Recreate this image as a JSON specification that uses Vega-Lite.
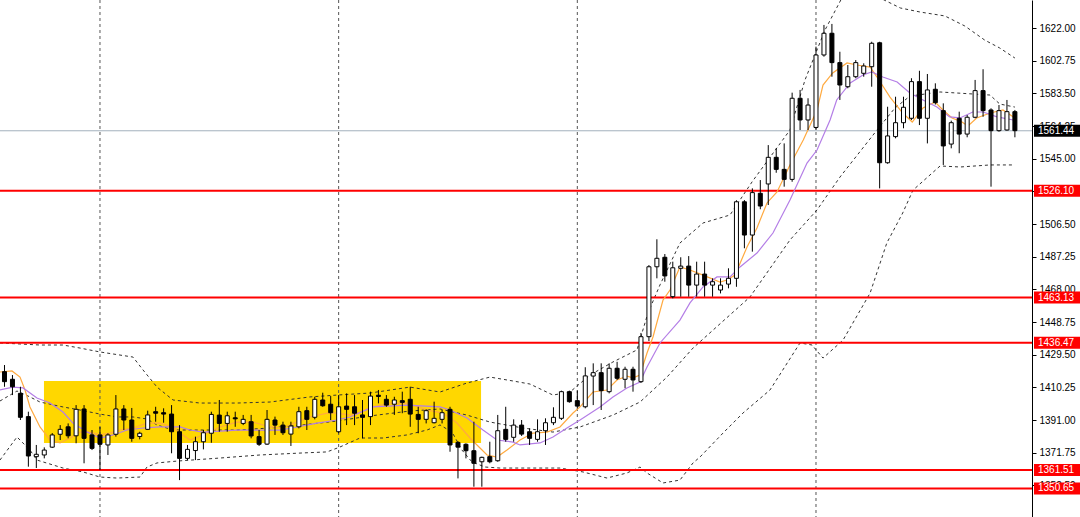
{
"$schema":"https://vega.github.io/schema/vega-lite/v6.json",
"width":1032,"height":517,
"autosize":{"type":"none"},
"padding":{"left":0,"top":0,"right":48,"bottom":0},
"background":"white",
"config":{"view":{"stroke":null},"font":"Liberation Sans"},
"datasets":{
"candles":[
{"i":0,"o":1419.5,"h":1423.4,"l":1410.6,"c":1413.6},
{"i":1,"o":1415.0,"h":1417.5,"l":1405.7,"c":1410.6},
{"i":2,"o":1406.7,"h":1410.6,"l":1391.0,"c":1392.6},
{"i":3,"o":1393.0,"h":1395.9,"l":1363.5,"c":1369.8},
{"i":4,"o":1369.4,"h":1376.3,"l":1362.7,"c":1370.8},
{"i":5,"o":1370.4,"h":1374.9,"l":1368.4,"c":1373.3},
{"i":6,"o":1375.0,"h":1383.3,"l":1374.5,"c":1382.2},
{"i":7,"o":1382.6,"h":1388.0,"l":1379.2,"c":1385.5},
{"i":8,"o":1387.0,"h":1389.0,"l":1380.2,"c":1381.7},
{"i":9,"o":1381.7,"h":1399.8,"l":1377.3,"c":1397.3},
{"i":10,"o":1397.5,"h":1399.8,"l":1365.5,"c":1380.2},
{"i":11,"o":1382.2,"h":1385.1,"l":1373.3,"c":1374.3},
{"i":12,"o":1382.2,"h":1386.9,"l":1361.5,"c":1376.7},
{"i":13,"o":1376.3,"h":1383.2,"l":1370.4,"c":1382.2},
{"i":14,"o":1382.6,"h":1405.7,"l":1381.2,"c":1397.5},
{"i":15,"o":1397.5,"h":1399.8,"l":1385.1,"c":1391.0},
{"i":16,"o":1391.0,"h":1398.1,"l":1378.2,"c":1380.2},
{"i":17,"o":1381.3,"h":1384.1,"l":1379.6,"c":1383.2},
{"i":18,"o":1385.5,"h":1396.5,"l":1385.1,"c":1394.0},
{"i":19,"o":1395.9,"h":1398.8,"l":1390.0,"c":1395.0},
{"i":20,"o":1395.3,"h":1397.9,"l":1389.4,"c":1394.5},
{"i":21,"o":1394.5,"h":1399.8,"l":1371.4,"c":1384.1},
{"i":22,"o":1384.1,"h":1388.0,"l":1355.6,"c":1368.4},
{"i":23,"o":1368.4,"h":1376.3,"l":1367.4,"c":1373.7},
{"i":24,"o":1373.0,"h":1381.2,"l":1367.4,"c":1378.2},
{"i":25,"o":1378.2,"h":1385.1,"l":1373.7,"c":1383.5},
{"i":26,"o":1383.2,"h":1395.9,"l":1377.6,"c":1394.3},
{"i":27,"o":1393.9,"h":1402.8,"l":1384.1,"c":1389.0},
{"i":28,"o":1389.0,"h":1395.9,"l":1384.1,"c":1393.5},
{"i":29,"o":1392.3,"h":1395.9,"l":1387.0,"c":1391.7},
{"i":30,"o":1389.0,"h":1394.0,"l":1388.0,"c":1391.4},
{"i":31,"o":1390.0,"h":1394.0,"l":1380.2,"c":1381.6},
{"i":32,"o":1381.2,"h":1385.1,"l":1375.7,"c":1376.7},
{"i":33,"o":1376.8,"h":1396.9,"l":1376.3,"c":1391.4},
{"i":34,"o":1391.0,"h":1393.0,"l":1382.2,"c":1388.0},
{"i":35,"o":1388.0,"h":1390.0,"l":1382.2,"c":1383.5},
{"i":36,"o":1382.7,"h":1390.0,"l":1375.7,"c":1387.5},
{"i":37,"o":1387.0,"h":1398.8,"l":1386.1,"c":1395.9},
{"i":38,"o":1396.5,"h":1398.8,"l":1385.1,"c":1391.4},
{"i":39,"o":1392.6,"h":1404.7,"l":1391.4,"c":1403.2},
{"i":40,"o":1402.8,"h":1407.1,"l":1398.8,"c":1399.4},
{"i":41,"o":1400.3,"h":1405.1,"l":1391.0,"c":1395.3},
{"i":42,"o":1384.1,"h":1405.7,"l":1383.2,"c":1398.8},
{"i":43,"o":1399.2,"h":1406.7,"l":1388.0,"c":1397.3},
{"i":44,"o":1398.8,"h":1405.7,"l":1388.0,"c":1395.0},
{"i":45,"o":1394.0,"h":1402.8,"l":1380.2,"c":1392.6},
{"i":46,"o":1393.0,"h":1407.7,"l":1388.0,"c":1405.1},
{"i":47,"o":1405.6,"h":1408.7,"l":1400.8,"c":1404.9},
{"i":48,"o":1403.2,"h":1405.7,"l":1398.8,"c":1399.8},
{"i":49,"o":1400.3,"h":1404.7,"l":1394.0,"c":1402.8},
{"i":50,"o":1402.4,"h":1407.7,"l":1395.0,"c":1401.4},
{"i":51,"o":1403.2,"h":1410.6,"l":1387.0,"c":1394.5},
{"i":52,"o":1394.3,"h":1398.8,"l":1383.2,"c":1391.4},
{"i":53,"o":1391.4,"h":1397.3,"l":1389.0,"c":1396.5},
{"i":54,"o":1389.4,"h":1401.8,"l":1389.0,"c":1392.0},
{"i":55,"o":1391.4,"h":1396.9,"l":1389.0,"c":1395.3},
{"i":56,"o":1397.3,"h":1398.8,"l":1372.3,"c":1376.3},
{"i":57,"o":1377.8,"h":1378.5,"l":1356.6,"c":1375.0},
{"i":58,"o":1376.7,"h":1377.3,"l":1368.4,"c":1372.9},
{"i":59,"o":1372.9,"h":1390.0,"l":1351.7,"c":1365.5},
{"i":60,"o":1366.4,"h":1369.4,"l":1351.7,"c":1369.0},
{"i":61,"o":1369.4,"h":1378.2,"l":1365.5,"c":1366.4},
{"i":62,"o":1367.0,"h":1394.0,"l":1366.4,"c":1384.7},
{"i":63,"o":1385.5,"h":1398.8,"l":1378.2,"c":1379.6},
{"i":64,"o":1380.8,"h":1391.4,"l":1378.2,"c":1388.0},
{"i":65,"o":1388.0,"h":1391.0,"l":1381.6,"c":1382.7},
{"i":66,"o":1384.1,"h":1386.1,"l":1376.3,"c":1380.2},
{"i":67,"o":1379.6,"h":1391.4,"l":1378.2,"c":1384.1},
{"i":68,"o":1384.7,"h":1392.0,"l":1376.3,"c":1389.4},
{"i":69,"o":1389.4,"h":1398.5,"l":1388.0,"c":1392.6},
{"i":70,"o":1392.0,"h":1408.3,"l":1391.0,"c":1407.7},
{"i":71,"o":1407.7,"h":1408.3,"l":1401.2,"c":1401.8},
{"i":72,"o":1402.4,"h":1408.3,"l":1397.9,"c":1399.2},
{"i":73,"o":1398.8,"h":1422.1,"l":1397.9,"c":1417.0},
{"i":74,"o":1416.9,"h":1424.4,"l":1399.8,"c":1418.9},
{"i":75,"o":1418.9,"h":1424.4,"l":1396.9,"c":1408.3},
{"i":76,"o":1407.7,"h":1424.4,"l":1406.7,"c":1421.5},
{"i":77,"o":1421.5,"h":1425.3,"l":1414.6,"c":1415.6},
{"i":78,"o":1415.0,"h":1422.4,"l":1409.7,"c":1420.9},
{"i":79,"o":1420.9,"h":1422.4,"l":1407.7,"c":1414.6},
{"i":80,"o":1413.6,"h":1442.3,"l":1412.8,"c":1440.1},
{"i":81,"o":1440.1,"h":1482.3,"l":1437.5,"c":1481.3},
{"i":82,"o":1481.3,"h":1497.5,"l":1474.5,"c":1486.3},
{"i":83,"o":1486.9,"h":1488.8,"l":1472.5,"c":1475.9},
{"i":84,"o":1463.7,"h":1484.3,"l":1462.7,"c":1480.7},
{"i":85,"o":1480.4,"h":1486.9,"l":1463.7,"c":1481.7},
{"i":86,"o":1481.7,"h":1487.6,"l":1463.7,"c":1470.5},
{"i":87,"o":1470.5,"h":1484.3,"l":1463.7,"c":1477.0},
{"i":88,"o":1477.0,"h":1484.3,"l":1463.7,"c":1470.5},
{"i":89,"o":1470.5,"h":1474.5,"l":1463.7,"c":1472.5},
{"i":90,"o":1467.6,"h":1474.5,"l":1465.6,"c":1470.5},
{"i":91,"o":1471.1,"h":1480.4,"l":1468.6,"c":1474.5},
{"i":92,"o":1474.5,"h":1520.5,"l":1469.5,"c":1519.6},
{"i":93,"o":1519.6,"h":1520.6,"l":1492.2,"c":1500.0},
{"i":94,"o":1500.0,"h":1527.5,"l":1490.2,"c":1525.0},
{"i":95,"o":1524.6,"h":1532.4,"l":1515.2,"c":1517.1},
{"i":96,"o":1530.1,"h":1553.0,"l":1517.7,"c":1545.8},
{"i":97,"o":1545.8,"h":1551.1,"l":1536.7,"c":1538.7},
{"i":98,"o":1538.7,"h":1554.0,"l":1528.5,"c":1532.8},
{"i":99,"o":1532.8,"h":1583.9,"l":1531.4,"c":1580.6},
{"i":100,"o":1580.6,"h":1585.5,"l":1561.9,"c":1567.8},
{"i":101,"o":1567.8,"h":1580.6,"l":1561.9,"c":1576.6},
{"i":102,"o":1563.4,"h":1611.0,"l":1561.9,"c":1606.1},
{"i":103,"o":1606.1,"h":1623.8,"l":1605.1,"c":1618.9},
{"i":104,"o":1618.9,"h":1624.4,"l":1593.3,"c":1601.6},
{"i":105,"o":1601.6,"h":1608.0,"l":1579.6,"c":1588.4},
{"i":106,"o":1587.4,"h":1600.2,"l":1586.5,"c":1593.3},
{"i":107,"o":1593.3,"h":1603.1,"l":1592.4,"c":1601.6},
{"i":108,"o":1595.3,"h":1601.2,"l":1593.3,"c":1599.6},
{"i":109,"o":1599.2,"h":1613.9,"l":1587.4,"c":1613.0},
{"i":110,"o":1613.3,"h":1613.9,"l":1527.5,"c":1542.6},
{"i":111,"o":1542.6,"h":1575.6,"l":1542.0,"c":1558.4},
{"i":112,"o":1558.0,"h":1581.5,"l":1557.0,"c":1566.2},
{"i":113,"o":1566.2,"h":1581.5,"l":1562.9,"c":1575.3},
{"i":114,"o":1568.8,"h":1592.4,"l":1567.8,"c":1590.4},
{"i":115,"o":1590.4,"h":1596.8,"l":1564.8,"c":1568.8},
{"i":116,"o":1568.8,"h":1594.9,"l":1554.0,"c":1585.5},
{"i":117,"o":1585.9,"h":1589.4,"l":1576.9,"c":1578.0},
{"i":118,"o":1573.3,"h":1577.6,"l":1541.3,"c":1552.5},
{"i":119,"o":1553.6,"h":1567.4,"l":1551.1,"c":1566.2},
{"i":120,"o":1568.8,"h":1572.7,"l":1548.2,"c":1559.5},
{"i":121,"o":1559.5,"h":1570.7,"l":1557.6,"c":1569.4},
{"i":122,"o":1569.4,"h":1591.4,"l":1568.8,"c":1585.1},
{"i":123,"o":1585.1,"h":1597.7,"l":1569.7,"c":1573.3},
{"i":124,"o":1573.7,"h":1574.7,"l":1528.5,"c":1561.5},
{"i":125,"o":1561.5,"h":1576.6,"l":1560.9,"c":1573.3},
{"i":126,"o":1561.9,"h":1579.6,"l":1561.5,"c":1572.7},
{"i":127,"o":1572.7,"h":1573.7,"l":1557.6,"c":1561.5}
],
"bands":[
{"b":"up","i":-0.57,"v":1436.4},{"b":"up","i":4.46,"v":1435.2},{"b":"up","i":7.35,"v":1435.2},{"b":"up","i":9.49,"v":1433.4},{"b":"up","i":12.0,"v":1431.1},{"b":"up","i":16.15,"v":1428.1},{"b":"up","i":17.41,"v":1420.5},{"b":"up","i":19.17,"v":1410.4},{"b":"up","i":21.18,"v":1402.8},{"b":"up","i":24.57,"v":1401.0},{"b":"up","i":29.22,"v":1401.0},{"b":"up","i":33.37,"v":1401.6},{"b":"up","i":38.4,"v":1404.6},{"b":"up","i":41.79,"v":1405.7},{"b":"up","i":45.94,"v":1406.9},{"b":"up","i":50.97,"v":1410.4},{"b":"up","i":54.74,"v":1407.5},{"b":"up","i":58.13,"v":1412.8},{"b":"up","i":61.02,"v":1416.3},{"b":"up","i":63.91,"v":1414.0},{"b":"up","i":66.05,"v":1412.2},{"b":"up","i":68.94,"v":1405.7},{"b":"up","i":71.08,"v":1407.5},{"b":"up","i":73.59,"v":1417.5},{"b":"up","i":76.48,"v":1425.2},{"b":"up","i":79.5,"v":1432.3},{"b":"up","i":80.88,"v":1454.1},{"b":"up","i":82.39,"v":1470.6},{"b":"up","i":84.9,"v":1495.3},{"b":"up","i":87.8,"v":1507.1},{"b":"up","i":91.19,"v":1511.8},{"b":"up","i":93.96,"v":1531.3},{"b":"up","i":98.73,"v":1561.9},{"b":"up","i":100.62,"v":1591.4},{"b":"up","i":103.13,"v":1620.8},{"b":"up","i":105.65,"v":1643.2},{"b":"up","i":108.2,"v":1645.6},{"b":"up","i":110.05,"v":1639.7},{"b":"up","i":112.6,"v":1633.8},{"b":"up","i":115.1,"v":1631.4},{"b":"up","i":118.2,"v":1629.1},{"b":"up","i":120.7,"v":1623.2},{"b":"up","i":123.2,"v":1614.9},{"b":"up","i":125.1,"v":1610.2},{"b":"up","i":127.0,"v":1604.3},
{"b":"mid","i":-0.57,"v":1402.2},{"b":"mid","i":1.57,"v":1408.1},{"b":"mid","i":3.2,"v":1404.6},{"b":"mid","i":4.46,"v":1401.6},{"b":"mid","i":7.35,"v":1398.7},{"b":"mid","i":9.49,"v":1396.9},{"b":"mid","i":12.0,"v":1394.5},{"b":"mid","i":14.14,"v":1392.8},{"b":"mid","i":16.15,"v":1392.8},{"b":"mid","i":17.91,"v":1391.6},{"b":"mid","i":19.17,"v":1388.1},{"b":"mid","i":21.18,"v":1385.1},{"b":"mid","i":24.57,"v":1385.1},{"b":"mid","i":29.22,"v":1385.1},{"b":"mid","i":33.37,"v":1386.3},{"b":"mid","i":37.52,"v":1388.1},{"b":"mid","i":41.79,"v":1390.4},{"b":"mid","i":45.94,"v":1393.4},{"b":"mid","i":50.97,"v":1396.3},{"b":"mid","i":54.74,"v":1397.5},{"b":"mid","i":58.13,"v":1393.9},{"b":"mid","i":61.02,"v":1389.8},{"b":"mid","i":65.17,"v":1386.3},{"b":"mid","i":68.94,"v":1383.9},{"b":"mid","i":72.34,"v":1386.9},{"b":"mid","i":76.48,"v":1393.9},{"b":"mid","i":79.88,"v":1401.6},{"b":"mid","i":83.27,"v":1416.3},{"b":"mid","i":86.54,"v":1433.4},{"b":"mid","i":93.7,"v":1463.5},{"b":"mid","i":98.73,"v":1497.1},{"b":"mid","i":102.13,"v":1514.8},{"b":"mid","i":105.02,"v":1534.2},{"b":"mid","i":109.67,"v":1561.9},{"b":"mid","i":111.93,"v":1574.9},{"b":"mid","i":113.82,"v":1581.9},{"b":"mid","i":117.59,"v":1584.3},{"b":"mid","i":123.87,"v":1582.5},{"b":"mid","i":125.1,"v":1577.2},{"b":"mid","i":127.0,"v":1575.4},
{"b":"low","i":-0.57,"v":1367.4},{"b":"low","i":1.57,"v":1381.0},{"b":"low","i":3.2,"v":1373.3},{"b":"low","i":4.08,"v":1367.4},{"b":"low","i":6.1,"v":1364.5},{"b":"low","i":7.35,"v":1362.7},{"b":"low","i":9.87,"v":1360.4},{"b":"low","i":12.0,"v":1357.4},{"b":"low","i":14.14,"v":1356.8},{"b":"low","i":17.03,"v":1357.4},{"b":"low","i":17.91,"v":1363.3},{"b":"low","i":19.17,"v":1365.7},{"b":"low","i":21.68,"v":1366.8},{"b":"low","i":27.09,"v":1368.6},{"b":"low","i":32.11,"v":1370.4},{"b":"low","i":37.52,"v":1371.6},{"b":"low","i":40.54,"v":1372.2},{"b":"low","i":42.17,"v":1375.1},{"b":"low","i":44.68,"v":1380.4},{"b":"low","i":47.57,"v":1380.4},{"b":"low","i":50.59,"v":1382.2},{"b":"low","i":53.1,"v":1385.1},{"b":"low","i":54.74,"v":1388.1},{"b":"low","i":56.25,"v":1383.9},{"b":"low","i":57.5,"v":1373.3},{"b":"low","i":58.76,"v":1366.3},{"b":"low","i":60.4,"v":1363.3},{"b":"low","i":62.28,"v":1362.7},{"b":"low","i":67.56,"v":1362.7},{"b":"low","i":69.82,"v":1362.7},{"b":"low","i":72.71,"v":1360.4},{"b":"low","i":75.73,"v":1356.8},{"b":"low","i":78.24,"v":1359.8},{"b":"low","i":79.88,"v":1363.3},{"b":"low","i":80.76,"v":1359.8},{"b":"low","i":82.77,"v":1353.9},{"b":"low","i":84.9,"v":1355.6},{"b":"low","i":86.54,"v":1365.7},{"b":"low","i":87.42,"v":1369.2},{"b":"low","i":90.31,"v":1383.3},{"b":"low","i":92.82,"v":1395.1},{"b":"low","i":96.22,"v":1408.7},{"b":"low","i":99.99,"v":1436.4},{"b":"low","i":101.5,"v":1435.2},{"b":"low","i":102.88,"v":1427.5},{"b":"low","i":105.4,"v":1438.1},{"b":"low","i":108.8,"v":1465.8},{"b":"low","i":110.9,"v":1495.3},{"b":"low","i":112.9,"v":1513.0},{"b":"low","i":114.2,"v":1526.5},{"b":"low","i":117.6,"v":1540.7},{"b":"low","i":120.1,"v":1540.1},{"b":"low","i":123.9,"v":1541.3},{"b":"low","i":126.8,"v":1541.3}
],
"ma":[
{"m":"fast","i":-0.57,"v":1419.3},{"m":"fast","i":0.94,"v":1419.9},{"m":"fast","i":1.95,"v":1416.3},{"m":"fast","i":2.58,"v":1408.7},{"m":"fast","i":3.2,"v":1398.7},{"m":"fast","i":4.46,"v":1386.9},{"m":"fast","i":5.72,"v":1379.2},{"m":"fast","i":6.98,"v":1377.5},{"m":"fast","i":8.23,"v":1380.4},{"m":"fast","i":9.49,"v":1383.9},{"m":"fast","i":10.75,"v":1383.9},{"m":"fast","i":12.0,"v":1382.2},{"m":"fast","i":13.26,"v":1383.3},{"m":"fast","i":14.52,"v":1385.1},{"m":"fast","i":16.15,"v":1386.3},{"m":"fast","i":17.91,"v":1389.2},{"m":"fast","i":19.55,"v":1389.2},{"m":"fast","i":21.18,"v":1386.9},{"m":"fast","i":22.06,"v":1383.3},{"m":"fast","i":23.32,"v":1379.2},{"m":"fast","i":24.95,"v":1382.2},{"m":"fast","i":27.09,"v":1386.9},{"m":"fast","i":29.22,"v":1389.8},{"m":"fast","i":31.23,"v":1389.8},{"m":"fast","i":33.37,"v":1386.9},{"m":"fast","i":35.0,"v":1386.3},{"m":"fast","i":36.76,"v":1389.8},{"m":"fast","i":38.4,"v":1392.8},{"m":"fast","i":40.54,"v":1395.1},{"m":"fast","i":41.79,"v":1395.1},{"m":"fast","i":43.43,"v":1393.9},{"m":"fast","i":44.68,"v":1395.7},{"m":"fast","i":46.32,"v":1398.7},{"m":"fast","i":48.45,"v":1401.0},{"m":"fast","i":50.59,"v":1401.0},{"m":"fast","i":53.1,"v":1396.9},{"m":"fast","i":55.12,"v":1395.1},{"m":"fast","i":56.88,"v":1389.2},{"m":"fast","i":58.51,"v":1380.4},{"m":"fast","i":59.77,"v":1374.5},{"m":"fast","i":60.65,"v":1370.4},{"m":"fast","i":61.9,"v":1369.2},{"m":"fast","i":63.16,"v":1373.3},{"m":"fast","i":64.8,"v":1379.2},{"m":"fast","i":66.43,"v":1383.3},{"m":"fast","i":68.19,"v":1383.9},{"m":"fast","i":69.82,"v":1386.9},{"m":"fast","i":71.46,"v":1395.1},{"m":"fast","i":72.34,"v":1398.7},{"m":"fast","i":73.97,"v":1407.5},{"m":"fast","i":75.73,"v":1408.7},{"m":"fast","i":76.99,"v":1414.6},{"m":"fast","i":78.24,"v":1416.9},{"m":"fast","i":79.0,"v":1415.8},{"m":"fast","i":79.88,"v":1417.5},{"m":"fast","i":80.76,"v":1430.5},{"m":"fast","i":81.51,"v":1439.9},{"m":"fast","i":82.77,"v":1461.7},{"m":"fast","i":83.65,"v":1467.6},{"m":"fast","i":84.9,"v":1481.2},{"m":"fast","i":86.16,"v":1479.4},{"m":"fast","i":87.8,"v":1476.4},{"m":"fast","i":89.93,"v":1472.3},{"m":"fast","i":90.81,"v":1473.5},{"m":"fast","i":91.82,"v":1476.4},{"m":"fast","i":93.33,"v":1492.9},{"m":"fast","i":94.58,"v":1504.1},{"m":"fast","i":95.84,"v":1518.9},{"m":"fast","i":97.1,"v":1525.4},{"m":"fast","i":98.73,"v":1541.3},{"m":"fast","i":100.4,"v":1556.0},{"m":"fast","i":102.13,"v":1573.7},{"m":"fast","i":102.88,"v":1588.4},{"m":"fast","i":104.1,"v":1595.5},{"m":"fast","i":105.9,"v":1601.4},{"m":"fast","i":107.15,"v":1600.2},{"m":"fast","i":108.8,"v":1599.0},{"m":"fast","i":109.67,"v":1593.1},{"m":"fast","i":111.3,"v":1581.3},{"m":"fast","i":112.9,"v":1571.9},{"m":"fast","i":114.1,"v":1566.6},{"m":"fast","i":115.45,"v":1574.9},{"m":"fast","i":116.96,"v":1578.4},{"m":"fast","i":117.96,"v":1573.7},{"m":"fast","i":119.1,"v":1569.0},{"m":"fast","i":120.35,"v":1566.6},{"m":"fast","i":121.1,"v":1564.3},{"m":"fast","i":122.2,"v":1569.0},{"m":"fast","i":123.9,"v":1571.9},{"m":"fast","i":125.5,"v":1573.7},{"m":"fast","i":127.0,"v":1569.0},
{"m":"slow","i":-0.57,"v":1408.7},{"m":"slow","i":1.07,"v":1410.4},{"m":"slow","i":2.33,"v":1409.9},{"m":"slow","i":4.08,"v":1404.0},{"m":"slow","i":5.72,"v":1401.0},{"m":"slow","i":7.35,"v":1395.7},{"m":"slow","i":8.61,"v":1389.2},{"m":"slow","i":10.37,"v":1383.9},{"m":"slow","i":12.0,"v":1380.4},{"m":"slow","i":13.64,"v":1382.2},{"m":"slow","i":15.4,"v":1385.1},{"m":"slow","i":17.41,"v":1386.3},{"m":"slow","i":19.55,"v":1386.9},{"m":"slow","i":22.06,"v":1386.9},{"m":"slow","i":23.32,"v":1385.1},{"m":"slow","i":24.95,"v":1383.9},{"m":"slow","i":29.22,"v":1385.1},{"m":"slow","i":34.63,"v":1385.1},{"m":"slow","i":36.76,"v":1386.9},{"m":"slow","i":39.28,"v":1389.2},{"m":"slow","i":41.79,"v":1391.0},{"m":"slow","i":43.43,"v":1392.8},{"m":"slow","i":46.32,"v":1398.7},{"m":"slow","i":50.59,"v":1399.8},{"m":"slow","i":54.74,"v":1398.7},{"m":"slow","i":56.0,"v":1396.9},{"m":"slow","i":58.13,"v":1392.2},{"m":"slow","i":60.14,"v":1385.1},{"m":"slow","i":61.9,"v":1379.2},{"m":"slow","i":63.91,"v":1378.0},{"m":"slow","i":64.8,"v":1376.3},{"m":"slow","i":67.31,"v":1377.5},{"m":"slow","i":68.94,"v":1381.0},{"m":"slow","i":70.7,"v":1386.3},{"m":"slow","i":72.34,"v":1391.0},{"m":"slow","i":74.85,"v":1398.7},{"m":"slow","i":76.48,"v":1404.6},{"m":"slow","i":78.24,"v":1409.9},{"m":"slow","i":79.88,"v":1413.4},{"m":"slow","i":80.76,"v":1422.2},{"m":"slow","i":82.39,"v":1436.4},{"m":"slow","i":84.9,"v":1449.9},{"m":"slow","i":86.16,"v":1460.0},{"m":"slow","i":87.8,"v":1469.4},{"m":"slow","i":89.55,"v":1475.3},{"m":"slow","i":91.19,"v":1475.3},{"m":"slow","i":92.45,"v":1481.2},{"m":"slow","i":94.58,"v":1489.4},{"m":"slow","i":96.59,"v":1501.2},{"m":"slow","i":98.73,"v":1520.6},{"m":"slow","i":100.87,"v":1542.4},{"m":"slow","i":102.13,"v":1550.1},{"m":"slow","i":103.77,"v":1567.8},{"m":"slow","i":104.6,"v":1579.6},{"m":"slow","i":106.3,"v":1589.6},{"m":"slow","i":107.9,"v":1594.3},{"m":"slow","i":109.0,"v":1596.1},{"m":"slow","i":110.4,"v":1593.1},{"m":"slow","i":112.2,"v":1590.2},{"m":"slow","i":113.8,"v":1583.7},{"m":"slow","i":115.45,"v":1579.6},{"m":"slow","i":117.2,"v":1575.4},{"m":"slow","i":118.8,"v":1569.6},{"m":"slow","i":120.1,"v":1569.0},{"m":"slow","i":121.7,"v":1572.5},{"m":"slow","i":123.0,"v":1572.5},{"m":"slow","i":124.75,"v":1569.6},{"m":"slow","i":126.8,"v":1567.8}
],
"levels":[{"v":1526.10},{"v":1463.13},{"v":1436.47},{"v":1361.51},{"v":1350.65}],
"price":[{"v":1561.44}],
"zone":[{"i1":4.96,"i2":59.9,"v1":1377.5,"v2":1414.0}],
"seps":[{"i":12},{"i":42},{"i":72},{"i":102}]
},
"encoding":{
"x":{"type":"quantitative","scale":{"domain":[-0.5656,129.15],"nice":false,"zero":false,"padding":0},"axis":null},
"y":{"type":"quantitative","scale":{"domain":[1333.85,1638.5],"nice":false,"zero":false,"padding":0},
"axis":{"orient":"right","title":null,"grid":false,"values":[1333.25,1352.5,1371.75,1391,1410.25,1429.5,1448.75,1468,1487.25,1506.5,1525.75,1545,1564.25,1583.5,1602.75,1622],"format":".2f","labelFontSize":10,"labelColor":"#000000","labelFont":"Liberation Sans","tickColor":"#000000","tickSize":4,"domainColor":"#000000","labelPadding":3,"labelOverlap":false,"labelFlush":false}}
},
"layer":[
{"data":{"name":"zone"},"mark":{"type":"rect","color":"#FFD700"},
 "encoding":{"x":{"field":"i1","type":"quantitative"},"x2":{"field":"i2"},"y":{"field":"v1","type":"quantitative"},"y2":{"field":"v2"}}},
{"data":{"name":"seps"},"mark":{"type":"rule","color":"#555555","strokeDash":[3,3],"strokeWidth":1},
 "encoding":{"x":{"field":"i","type":"quantitative"}}},
{"data":{"name":"bands"},"mark":{"type":"line","color":"#333333","strokeDash":[3,3],"strokeWidth":1,"clip":true},
 "encoding":{"x":{"field":"i","type":"quantitative"},"y":{"field":"v","type":"quantitative"},"detail":{"field":"b"}}},
{"data":{"name":"levels"},"mark":{"type":"rule","color":"#FF0000","strokeWidth":2},
 "encoding":{"y":{"field":"v","type":"quantitative"}}},
{"data":{"name":"price"},"mark":{"type":"rule","color":"#A3B0BC","strokeWidth":1},
 "encoding":{"y":{"field":"v","type":"quantitative"}}},
{"data":{"name":"ma"},"mark":{"type":"line","strokeWidth":1.2,"clip":true},
 "encoding":{"x":{"field":"i","type":"quantitative"},"y":{"field":"v","type":"quantitative"},
 "color":{"field":"m","type":"nominal","scale":{"domain":["fast","slow"],"range":["#FFAA40","#B47EE6"]},"legend":null}}},
{"data":{"name":"candles"},"mark":{"type":"rule","color":"#000000","strokeWidth":1},
 "encoding":{"x":{"field":"i","type":"quantitative"},"y":{"field":"l","type":"quantitative"},"y2":{"field":"h"}}},
{"data":{"name":"candles"},"mark":{"type":"bar","width":4,"stroke":"#000000","strokeWidth":1},
 "encoding":{"x":{"field":"i","type":"quantitative"},"y":{"field":"o","type":"quantitative"},"y2":{"field":"c"},
 "fill":{"condition":{"test":"datum.c >= datum.o","value":"#FFFFFF"},"value":"#000000"}}},
{"data":{"name":"levels"},"mark":{"type":"bar","height":12,"color":"#FF0000"},
 "encoding":{"x":{"datum":129.4},"x2":{"datum":135.3},"y":{"field":"v","type":"quantitative"}}},
{"data":{"name":"price"},"mark":{"type":"bar","height":12,"color":"#000000"},
 "encoding":{"x":{"datum":129.4},"x2":{"datum":135.3},"y":{"field":"v","type":"quantitative"}}},
{"data":{"name":"levels"},"mark":{"type":"text","align":"left","baseline":"middle","color":"#FFFFFF","fontSize":10,"font":"Liberation Sans"},
 "encoding":{"x":{"datum":129.9},"y":{"field":"v","type":"quantitative"},"text":{"field":"v","type":"quantitative","format":".2f"}}},
{"data":{"name":"price"},"mark":{"type":"text","align":"left","baseline":"middle","color":"#FFFFFF","fontSize":10,"font":"Liberation Sans"},
 "encoding":{"x":{"datum":129.9},"y":{"field":"v","type":"quantitative"},"text":{"field":"v","type":"quantitative","format":".2f"}}}
]
}
